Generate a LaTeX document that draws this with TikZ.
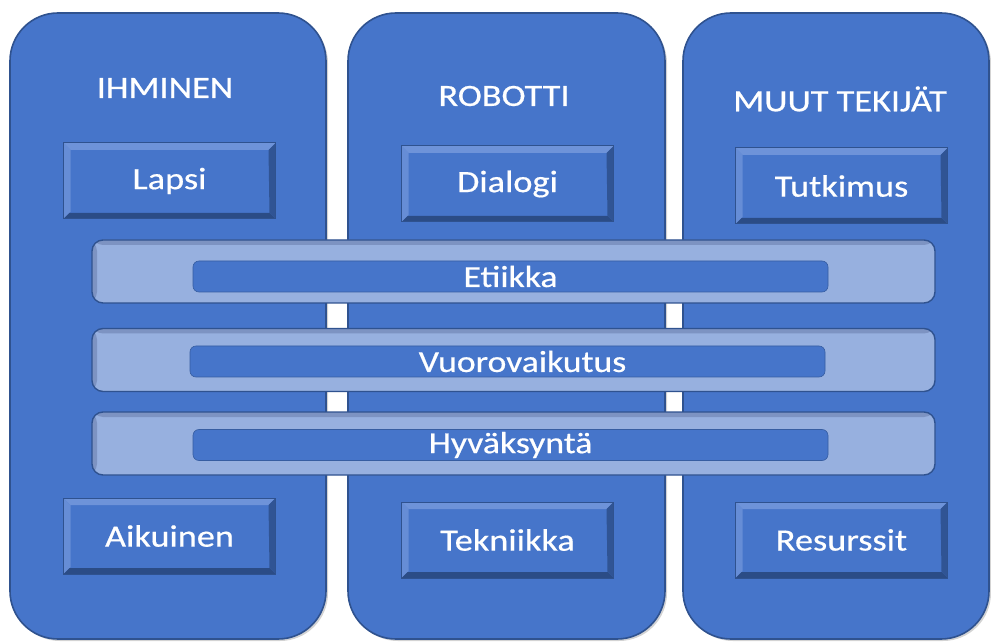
\documentclass[tikz,border=0pt]{standalone}
\usepackage{fontspec}
\setmainfont[FakeBold=0.5]{Carlito}
\usetikzlibrary{shadows}
\definecolor{colfill}{HTML}{4675CA}
\definecolor{bord}{HTML}{2F528F}
\definecolor{bandfill}{HTML}{97B0DF}
\definecolor{bandshade}{HTML}{7D93C2}
\definecolor{bevlight}{HTML}{6E93D9}
\definecolor{bevdark}{HTML}{2B4C86}
\newcommand{\wtxt}[1]{\scalebox{1.17}[1]{#1}}
\tikzset{
  column/.style={draw=bord, line width=1.6pt, fill=colfill, rounded corners=48pt,
    minimum width=#1, minimum height=626pt, inner sep=0pt,
    drop shadow={shadow xshift=2pt, shadow yshift=-2pt, opacity=0.35}},
  header/.style={text=white, font=\fontsize{31}{34}\selectfont},
  bevbox/.style={draw=bord, line width=1pt, fill=colfill, minimum width=212pt, minimum height=76pt,
    inner sep=0pt, text=white, font=\fontsize{31}{34}\selectfont,
    path picture={
      \fill[bevlight] (path picture bounding box.north west) -- (path picture bounding box.north east)
        -- ([xshift=-7pt,yshift=-7pt]path picture bounding box.north east)
        -- ([xshift=7pt,yshift=-7pt]path picture bounding box.north west) -- cycle;
      \fill[bevlight!80!colfill] (path picture bounding box.north west) -- ([xshift=7pt,yshift=-7pt]path picture bounding box.north west)
        -- ([xshift=7pt,yshift=7pt]path picture bounding box.south west) -- (path picture bounding box.south west) -- cycle;
      \fill[bevdark] (path picture bounding box.south west) -- (path picture bounding box.south east)
        -- ([xshift=-6pt,yshift=6pt]path picture bounding box.south east)
        -- ([xshift=6pt,yshift=6pt]path picture bounding box.south west) -- cycle;
      \fill[bevdark!80!colfill] (path picture bounding box.north east) -- ([xshift=-7pt,yshift=-7pt]path picture bounding box.north east)
        -- ([xshift=-6pt,yshift=6pt]path picture bounding box.south east) -- (path picture bounding box.south east) -- cycle;
    }},
  band/.style={draw=bord, line width=1.4pt, fill=bandfill, rounded corners=11pt,
    minimum width=843pt, minimum height=63pt, inner sep=0pt,
    path picture={
      \fill[bandshade] ([yshift=0pt]path picture bounding box.north west) rectangle ([yshift=-5pt]path picture bounding box.north east);
      \fill[bandshade] (path picture bounding box.north west) rectangle ([xshift=5pt]path picture bounding box.south west);
    }},
  bar/.style={draw=bord!70!colfill, line width=0.6pt, fill=colfill, rounded corners=6pt,
    minimum width=635pt, minimum height=31pt, inner sep=0pt, text=white,
    font=\fontsize{30.5}{32}\selectfont}
}
\begin{document}
\begin{tikzpicture}[x=1pt,y=-1pt]
\useasboundingbox (0,0) rectangle (991,644);
% columns
\node[column=316pt] (c1) at (168,326) {};
\node[column=317pt] (c2) at (506.5,326) {};
\node[column=306pt] (c3) at (836,326) {};
% headers
\node[header] (h1) at (165,88) {\wtxt{IHMINEN}};
\node[header] (h2) at (504,96) {\wtxt{ROBOTTI}};
\node[header] (h3) at (840,99) {\wtxt{MUUT TEKIJÄT}};
% boxes
\node[bevbox] (lapsi) at (169.5,181) {\wtxt{Lapsi}};
\node[bevbox] (dialogi) at (507.5,184) {\wtxt{Dialogi}};
\node[bevbox] (tutkimus) at (841.5,186) {\wtxt{Tutkimus}};
\node[bevbox] (aikuinen) at (169.5,536) {\wtxt{Aikuinen}};
\node[bevbox] (tekniikka) at (507.5,540) {\wtxt{Tekniikka}};
\node[bevbox] (resurssit) at (841.5,540) {\wtxt{Resurssit}};
% bands
\node[band] (b1) at (513.5,271.5) {};
\node[band] (b2) at (513.5,360) {};
\node[band] (b3) at (513.5,443.5) {};
\node[bar] (etiikka) at (510.5,276.5) {\wtxt{Etiikka}};
\node[bar] (vuoro) at (507.5,361.5) {\hspace*{30pt}\wtxt{Vuorovaikutus}};
\node[bar] (hyv) at (510.5,445) {\wtxt{Hyväksyntä}};
\end{tikzpicture}
\end{document}
